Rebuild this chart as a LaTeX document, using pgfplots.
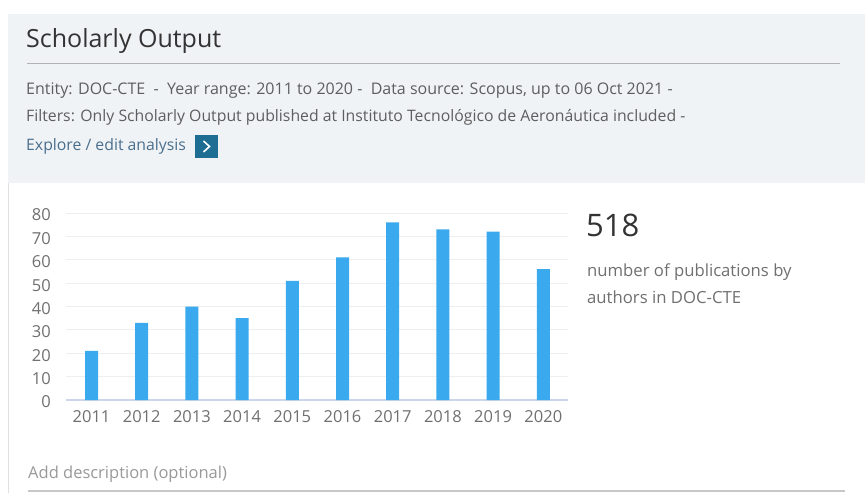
\documentclass[border=0pt]{standalone}
\usepackage{pgfplots}
\pgfplotsset{compat=1.18}
\usepackage{fontspec}
\setmainfont{Open Sans}
\definecolor{band}{HTML}{EFF3F6}
\definecolor{barc}{HTML}{3BA9EE}
\definecolor{boxc}{HTML}{1E6E94}
\definecolor{txt}{HTML}{5E5E5E}
\definecolor{tickc}{HTML}{707070}
\definecolor{gridc}{HTML}{EEEEEE}
\definecolor{zeroc}{HTML}{CCD6EB}
\definecolor{linkc}{HTML}{4A6E8C}
\begin{document}
\begin{tikzpicture}
% canvas
\fill[white] (0pt,0pt) rectangle (865pt,493pt);
\fill[band] (8pt,479pt) rectangle (865pt,310pt);
\draw[black!12, line width=1pt] (8.5pt,310pt) -- (8.5pt,0pt);
% header
\node[anchor=base west, inner sep=0, text=black!80, font=\fontsize{25}{29}\selectfont] at (26pt,445pt) {Scholarly Output};
\draw[black!30, line width=1pt] (27pt,429.5pt) -- (840pt,429.5pt);
\node[anchor=base west, inner sep=0, text=txt, font=\fontsize{16}{18}\selectfont] at (26pt,398pt) {Entity: DOC-CTE\ \ -\ \ Year range: 2011 to 2020 -\ \ Data source: Scopus, up to 06 Oct 2021 -};
\node[anchor=base west, inner sep=0, text=txt, font=\fontsize{15.8}{18}\selectfont] at (26pt,371pt) {Filters: Only Scholarly Output published at Instituto Tecnológico de Aeronáutica included -};
\node[anchor=base west, inner sep=0, text=linkc, font=\fontsize{15.8}{18}\selectfont] at (26pt,342pt) {Explore / edit analysis};
\fill[boxc] (195pt,358pt) rectangle (218pt,335pt);
\draw[white, line width=1.6pt] (203.5pt,352pt) -- (209.5pt,346.5pt) -- (203.5pt,341pt);
% right side text
\node[anchor=base west, inner sep=0, text=black!80, font=\fontsize{31}{36}\selectfont] at (586pt,256pt) {518};
\node[anchor=base west, inner sep=0, text=tickc, font=\fontsize{16.7}{20}\selectfont] at (587pt,217pt) {number of publications by};
\node[anchor=base west, inner sep=0, text=tickc, font=\fontsize{16.7}{20}\selectfont] at (587pt,190pt) {authors in DOC-CTE};
% footer
\node[anchor=base west, inner sep=0, text=black!40, font=\fontsize{16.5}{18}\selectfont] at (28pt,15pt) {Add description (optional)};
\draw[black!22, line width=1.2pt] (28pt,2pt) -- (845pt,2pt);
% chart
\begin{axis}[
  at={(66.4pt,93pt)}, anchor=south west,
  scale only axis, width=502pt, height=187pt,
  xmin=-0.5, xmax=9.5, ymin=0, ymax=80,
  ybar, bar width=13pt,
  xtick={0,...,9},
  xticklabels={2011,2012,2013,2014,2015,2016,2017,2018,2019,2020},
  ytick={0,10,...,80},
  axis line style={draw=none},
  major tick length=0pt,
  xmajorgrids=false, ymajorgrids=true,
  major grid style={draw=gridc, line width=1pt},
  tick label style={text=tickc, font=\fontsize{16.5}{18}\selectfont},
  /pgf/number format/assume math mode=true,
  yticklabel style={xshift=-12pt, yshift=-2pt},
  xticklabel style={yshift=-7pt},
  clip=false,
]
\draw[zeroc, line width=1.2pt] (axis cs:-0.5,0) -- (axis cs:9.5,0);
\addplot[fill=barc, draw=none] coordinates {
  (0,21) (1,33) (2,40) (3,35) (4,51) (5,61) (6,76) (7,73) (8,72) (9,56)
};
\end{axis}
\end{tikzpicture}
\end{document}
